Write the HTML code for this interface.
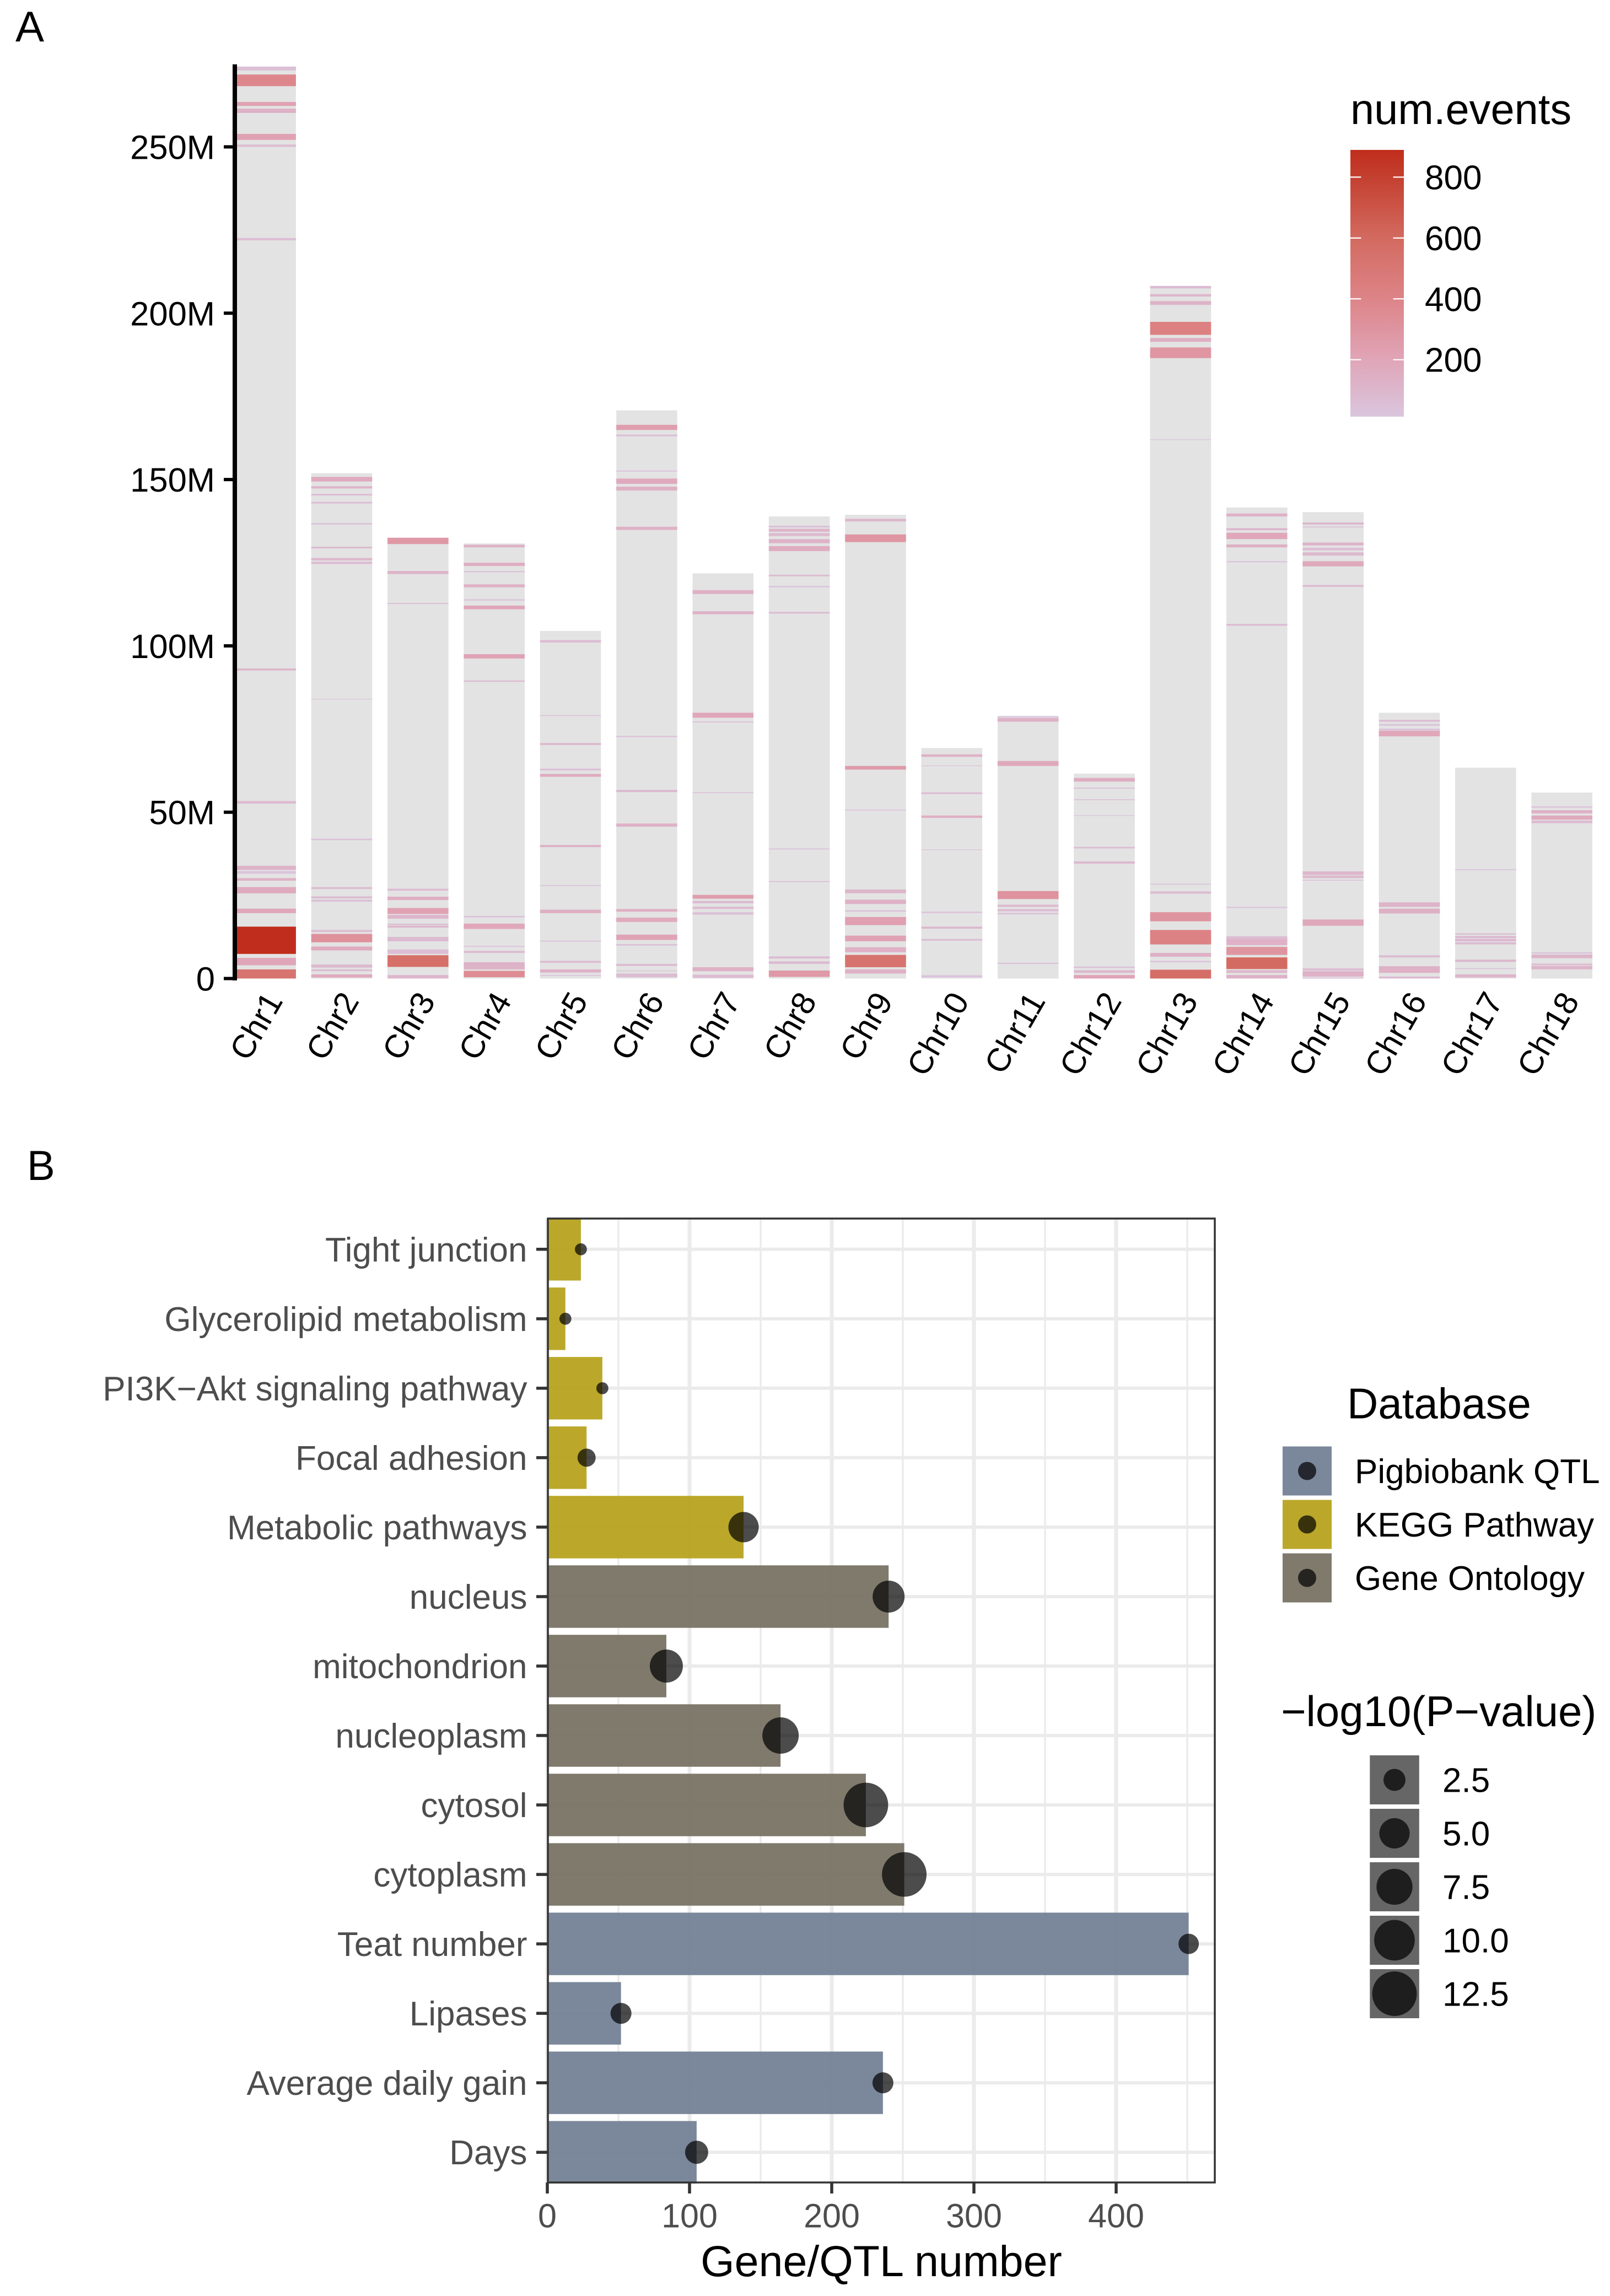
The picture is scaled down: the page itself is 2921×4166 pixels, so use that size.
<!DOCTYPE html>
<html lang="en">
<head>
<meta charset="utf-8">
<title>Chromosome event density and enrichment chart</title>
<style>
html,body{margin:0;padding:0;background:#fff;}
svg{display:block;}
text{font-family:"Liberation Sans",sans-serif;}
</style>
</head>
<body>
<svg id="figure" xmlns="http://www.w3.org/2000/svg" width="2921" height="4166" viewBox="0 0 2921 4166">
<rect x="0" y="0" width="2921" height="4166" fill="#ffffff"/>
<defs>
<linearGradient id="eventsGradient" x1="0" y1="1" x2="0" y2="0"></linearGradient>
</defs>
<g id="panelA"></g>
<g id="panelB"></g>
</svg>
<script>
// ---------- Panel A data ----------
const chromosomeNames = ["Chr1","Chr2","Chr3","Chr4","Chr5","Chr6","Chr7","Chr8","Chr9","Chr10","Chr11","Chr12","Chr13","Chr14","Chr15","Chr16","Chr17","Chr18"];
const chromosomeLengthsM = [274.2,151.9,132.5,130.8,104.5,170.8,121.8,138.9,139.4,69.3,79,61.6,208.2,141.6,140.2,79.9,63.4,55.9];
const yTicksM = [0,50,100,150,200,250];
const yTickLabels = ["0","50M","100M","150M","200M","250M"];
const colorbarTicks = [200,400,600,800];
const colorStopValues = [13,200,400,600,800,890];
const colorStopHex = ["#dac6de","#e0a5b8","#dd8488","#d36a60","#c44030","#c12d1c"];
// each band: [start Mb, end Mb, num.events]
const bandsChr1 = [[273,274.07,60],[268.26,271.75,380],[262.3,263.5,220],[260.2,261.5,130],[252.1,253.9,220],[250,250.7,70],[221.9,222.6,60],[92.6,93.2,110],[52.6,53.35,80],[32.65,33.9,120],[31.5,32.3,30],[29.4,30.2,130],[25.6,27.5,170],[19.65,21,190],[7.4,15.6,890],[4,6.2,200],[0,2.75,520]];
const bandsChr2 = [[149.4,150.8,170],[147.3,148,110],[145.2,145.7,60],[142.8,143.3,60],[136.5,136.9,50],[129.3,129.8,80],[125.7,126.4,100],[124.6,125.3,70],[83.9,84.1,30],[41.6,42.05,40],[26.9,27.5,70],[24.1,24.7,70],[23.1,23.7,50],[14,14.6,70],[10.9,13.4,320],[8.45,9.6,170],[3.3,4.2,90],[2.2,2.75,70],[0.3,1.25,170]];
const bandsChr3 = [[130.6,132.5,280],[121.6,122.5,120],[112.6,112.9,50],[26.4,27,70],[23.6,24.6,150],[19.4,21.2,220],[18,19.1,110],[16.1,16.5,70],[15.3,15.9,100],[11.2,12.5,80],[7.4,8.75,60],[3.5,7,560],[0,1.05,100]];
const bandsChr4 = [[129.6,130.4,130],[124,125,150],[122.1,122.5,30],[117.6,118.5,140],[113.6,114,30],[111,112.1,200],[96.2,97.5,210],[89.2,89.6,70],[18.4,18.8,50],[14.9,16.5,190],[9.5,9.8,30],[7.7,8.3,80],[2.75,4.9,120],[0.4,2.3,350]];
const bandsChr5 = [[101,101.75,70],[78.9,79.2,30],[70.2,70.8,100],[62.55,63.1,50],[60.65,61.5,170],[39.5,40.15,130],[27.8,28.1,30],[19.65,20.7,150],[11.1,11.4,30],[4.75,5.3,80],[1.8,2.75,130],[0.8,1.1,30]];
const bandsChr6 = [[164.9,166.45,240],[163,163.5,50],[152.4,152.7,35],[148.7,150.3,170],[146.7,147.85,140],[134.85,135.8,130],[72.6,72.95,40],[56.05,56.7,90],[45.65,46.6,130],[20.1,20.9,150],[17,18.3,170],[11.6,13.2,210],[9.9,10.35,50],[3.8,4.4,80],[2.2,2.4,60],[0.4,1.5,70]];
const bandsChr7 = [[115.6,116.75,140],[109.5,110.4,130],[78.4,79.9,190],[77,77.3,50],[55.7,56,35],[24,25.15,240],[22.6,23.35,70],[20.9,21.6,70],[19.2,19.9,50],[2.2,3.4,130],[0.2,1.15,70]];
const bandsChr8 = [[135.6,136.1,40],[134.3,135.2,110],[133,133.9,80],[130.85,132.1,120],[128.5,130,160],[120.9,121.4,70],[117.6,118,30],[109.7,110.2,70],[38.8,39.1,35],[29,29.3,50],[6,6.65,70],[4.4,5.15,80],[0.5,2.4,270]];
const bandsChr9 = [[137.4,138.2,100],[131.2,133.5,290],[62.8,63.9,260],[50.5,50.8,30],[25.65,26.75,110],[22.4,23.7,130],[20.1,20.5,50],[16.05,18.5,230],[11.2,12.9,210],[7.9,9.4,130],[3.4,7.1,530],[1.5,2.75,130]];
const bandsChr10 = [[66.65,67.4,130],[63.85,64.05,40],[55.45,55.95,70],[48.3,49,150],[38.6,38.8,40],[19.7,20.1,40],[15,15.6,90],[11.4,11.9,70],[0.3,1,25]];
const bandsChr11 = [[78.4,78.8,20],[77.2,78.3,130],[63.9,65.4,180],[23.9,26.3,310],[21.55,22.2,90],[20.2,20.9,70],[19.3,19.75,50],[4.4,4.75,40]];
const bandsChr12 = [[59.2,60.3,160],[57.05,57.4,35],[53.6,53.9,35],[48.9,49.1,25],[39.1,39.6,60],[34.55,35.2,90],[3.15,3.6,40],[1.7,2.5,90],[0,1.05,210]];
const bandsChr13 = [[207.45,208.2,70],[205,205.75,100],[202.5,203.65,120],[193.5,197.4,430],[191.4,192.55,150],[186.5,189.7,290],[161.9,162.1,25],[28.2,28.5,25],[25.5,26.2,70],[17.2,19.95,300],[10.25,14.6,420],[6.55,7.7,130],[4.9,5.3,30],[0,2.65,570]];
const bandsChr14 = [[138.9,139.8,130],[134.75,135.4,100],[132.1,134,190],[129.6,130.5,140],[125.1,125.45,35],[106.05,106.6,70],[21.2,21.55,30],[11.85,12.7,70],[10.05,11.85,130],[7.1,9.5,300],[2.85,6.35,590],[1.7,2.5,100],[0,1.05,130]];
const bandsChr15 = [[136.45,137.1,90],[135.6,135.9,40],[130.2,131.05,120],[128.7,129.5,60],[127.15,128.1,90],[123.9,125.45,180],[117.75,118.3,80],[31.15,32.2,100],[30.2,30.95,90],[29.4,29.7,30],[15.85,17.75,180],[2.4,3.05,70],[0.6,2.2,130],[0,0.3,40]];
const bandsChr16 = [[77.2,77.75,70],[76,76.5,30],[74.6,75.1,40],[72.8,74.5,190],[21.55,22.9,120],[19.55,21,140],[6.35,7,70],[1.7,3.7,130],[0,0.6,80]];
const bandsChr17 = [[32.55,32.85,25],[13.2,13.6,60],[12.15,12.8,80],[11.2,11.95,90],[10.25,10.9,70],[5,5.7,90],[2.85,3.15,25],[0.3,1.25,110]];
const bandsChr18 = [[51.35,51.75,40],[49.65,50.6,130],[47.75,49,170],[46.7,47.45,80],[7.5,7.9,40],[6.1,7.2,110],[4,4.5,70],[2.75,3.8,110]];
const allBands = [bandsChr1,bandsChr2,bandsChr3,bandsChr4,bandsChr5,bandsChr6,bandsChr7,bandsChr8,bandsChr9,bandsChr10,bandsChr11,bandsChr12,bandsChr13,bandsChr14,bandsChr15,bandsChr16,bandsChr17,bandsChr18];

// ---------- Panel B data ----------
const termLabels = ["Tight junction","Glycerolipid metabolism","PI3K\u2212Akt signaling pathway","Focal adhesion","Metabolic pathways","nucleus","mitochondrion","nucleoplasm","cytosol","cytoplasm","Teat number","Lipases","Average daily gain","Days"];
const termCounts = [23.6,12.7,38.7,27.6,138,240,83.7,164,224,251,451,51.8,236,105];
const termLogP = [1.31,1.31,1.31,1.81,5,5.66,6.13,7.69,12.5,12.5,2.17,2.28,2.28,2.76];
const termDatabase = ["KEGG Pathway","KEGG Pathway","KEGG Pathway","KEGG Pathway","KEGG Pathway","Gene Ontology","Gene Ontology","Gene Ontology","Gene Ontology","Gene Ontology","Pigbiobank QTL","Pigbiobank QTL","Pigbiobank QTL","Pigbiobank QTL"];
const databaseNames = ["Pigbiobank QTL","KEGG Pathway","Gene Ontology"];
const databaseBarFill = ["#748296","#b7a31f","#787364"];
const databaseKeyFill = ["#7b889b","#bba82a","#7f7a6c"];
const xTicksMajor = [0,100,200,300,400];
const xTicksMinor = [50,150,250,350,450];
const sizeLegendValues = [2.5,5,7.5,10,12.5];
const sizeLegendLabels = ["2.5","5.0","7.5","10.0","12.5"];

// ---------- Scales ----------
function yA(mb){ return 1775.5 - 6.036 * mb; }
function bandCenterA(i){ return 481.6 + 138.36 * i; }
const bandWidthA = 110.6;
function yColorbar(v){ return 652.7 - (v - 200) * (110.43 / 200); }
function xB(v){ return 993 + 2.58 * v; }
function yB(i){ return 2266.8 + 126.03 * i; }
function dotDiameter(p){ return 20 + 62 * Math.sqrt(Math.max(0, p - 1.3) / 11.6); }
function hexToRgb(h){ return [1,3,5].map(function(k){ return parseInt(h.substr(k,2),16); }); }
function eventColor(v){
  var n = colorStopValues.length;
  if (v <= colorStopValues[0]) return colorStopHex[0];
  for (var i = 1; i < n; i++) {
    if (v <= colorStopValues[i]) {
      var t = (v - colorStopValues[i-1]) / (colorStopValues[i] - colorStopValues[i-1]);
      var a = hexToRgb(colorStopHex[i-1]), b = hexToRgb(colorStopHex[i]);
      return "rgb(" + a.map(function(c,k){ return Math.round(c + (b[k]-c)*t); }).join(",") + ")";
    }
  }
  return colorStopHex[n-1];
}

var NS = "http://www.w3.org/2000/svg";
function mk(tag, attrs, parent, content){
  var el = document.createElementNS(NS, tag);
  for (var k in attrs) el.setAttribute(k, attrs[k]);
  if (content !== undefined) el.textContent = content;
  parent.appendChild(el);
  return el;
}
var A = document.getElementById("panelA");
var B = document.getElementById("panelB");
var el;

// ---------- Panel A ----------
el = mk("text",{x:28,y:75,"font-size":78,fill:"#000"},A,"A");



chromosomeNames.forEach(function(name,i){
  var cx = bandCenterA(i);
  el = mk("rect",{x:cx-bandWidthA/2,y:yA(chromosomeLengthsM[i]),width:bandWidthA,height:yA(0)-yA(chromosomeLengthsM[i]),fill:"#e3e3e3"},A);
  
  
  allBands[i].forEach(function(b){
    el = mk("rect",{x:cx-bandWidthA/2,y:yA(b[1]),width:bandWidthA,height:yA(b[0])-yA(b[1]),fill:eventColor(b[2])},A);
    
    
  });
  var X = cx + 33, Y = 1816;
  el = mk("text",{x:X,y:Y,"font-size":59.5,"text-anchor":"end",fill:"#000",transform:"rotate(-60 "+X+" "+Y+")"},A,name);
  
  
});

el = mk("line",{x1:426,y1:116.7,x2:426,y2:1779,stroke:"#000","stroke-width":8},A);



yTicksM.forEach(function(v,i){
  el = mk("line",{x1:406,y1:yA(v),x2:426,y2:yA(v),stroke:"#000","stroke-width":6},A);
  
  
  el = mk("text",{x:390,y:yA(v)+22,"font-size":61.5,"text-anchor":"end",fill:"#000"},A,yTickLabels[i]);
  
  
});

// colour legend
var grad = document.getElementById("eventsGradient");
colorStopValues.forEach(function(v,i){
  el = mk("stop",{offset:((v-13)/(890-13)),"stop-color":colorStopHex[i]},grad);
});
el = mk("text",{x:2450,y:225,"font-size":77.6,fill:"#000"},A,"num.events");


el = mk("rect",{x:2450,y:272,width:97,height:484,fill:"url(#eventsGradient)"},A);


colorbarTicks.forEach(function(v){
  var y = yColorbar(v);
  el = mk("line",{x1:2450,y1:y,x2:2469.4,y2:y,stroke:"#fff","stroke-width":2.2},A);
  
  
  el = mk("line",{x1:2527.6,y1:y,x2:2547,y2:y,stroke:"#fff","stroke-width":2.2},A);
  
  
  el = mk("text",{x:2585,y:y+22,"font-size":62,fill:"#000"},A,String(v));
  
  
});

// ---------- Panel B ----------
el = mk("text",{x:49,y:2141,"font-size":76,fill:"#000"},B,"B");



var pL = 994, pR = 2204, pT = 2211, pBot = 3960;
xTicksMinor.forEach(function(v){
  el = mk("line",{x1:xB(v),y1:pT,x2:xB(v),y2:pBot,stroke:"#ebebeb","stroke-width":3.5},B);
  
  
});
xTicksMajor.forEach(function(v){
  el = mk("line",{x1:xB(v),y1:pT,x2:xB(v),y2:pBot,stroke:"#ebebeb","stroke-width":7},B);
  
  
});
termLabels.forEach(function(t,i){
  el = mk("line",{x1:pL,y1:yB(i),x2:pR,y2:yB(i),stroke:"#ebebeb","stroke-width":6},B);
  
  
});
termLabels.forEach(function(t,i){
  var fill = databaseBarFill[databaseNames.indexOf(termDatabase[i])];
  el = mk("rect",{x:xB(0),y:yB(i)-56.7,width:xB(termCounts[i])-xB(0),height:113.4,fill:fill,"fill-opacity":0.95},B);
  
  
});
termLabels.forEach(function(t,i){
  el = mk("circle",{cx:xB(termCounts[i]),cy:yB(i),r:dotDiameter(termLogP[i])/2,fill:"#000","fill-opacity":0.7},B);
  
  
});
el = mk("rect",{x:pL,y:pT,width:pR-pL,height:pBot-pT,fill:"none",stroke:"#333","stroke-width":3.5},B);



termLabels.forEach(function(t,i){
  el = mk("line",{x1:973,y1:yB(i),x2:994,y2:yB(i),stroke:"#333","stroke-width":5.5},B);
  
  
  el = mk("text",{x:956.5,y:yB(i)+22,"font-size":62,"text-anchor":"end",fill:"#4d4d4d"},B,t);
  
  
});
xTicksMajor.forEach(function(v){
  el = mk("line",{x1:xB(v),y1:pBot,x2:xB(v),y2:pBot+20,stroke:"#333","stroke-width":5.5},B);
  
  
  el = mk("text",{x:xB(v),y:4041.5,"font-size":61,"text-anchor":"middle",fill:"#4d4d4d"},B,String(v));
  
  
});
el = mk("text",{x:1599,y:4130,"font-size":79,"text-anchor":"middle",fill:"#000"},B,"Gene/QTL number");



// database legend
el = mk("text",{x:2444,y:2573.5,"font-size":78,fill:"#000"},B,"Database");


databaseNames.forEach(function(n,i){
  var cy = 2669 + 97 * i;
  el = mk("rect",{x:2327,y:cy-44.5,width:89,height:89,fill:databaseKeyFill[i]},B);
  
  
  el = mk("circle",{cx:2371.5,cy:cy,r:16.5,fill:"#000","fill-opacity":0.7},B);
  
  
  el = mk("text",{x:2458,y:cy+22,"font-size":62,fill:"#000"},B,n);
  
  
});

// size legend
el = mk("text",{x:2324,y:3132,"font-size":78,fill:"#000"},B,"\u2212log10(P\u2212value)");


sizeLegendValues.forEach(function(v,i){
  var cy = 3229.5 + 97 * i;
  el = mk("rect",{x:2485.3,y:cy-44.5,width:89.5,height:89,fill:"#666666"},B);
  
  
  el = mk("circle",{cx:2530,cy:cy,r:dotDiameter(v)/2,fill:"#000","fill-opacity":0.7},B);
  
  
  el = mk("text",{x:2617,y:cy+22,"font-size":62,fill:"#000"},B,sizeLegendLabels[i]);
  
  
});
</script>
</body>
</html>
